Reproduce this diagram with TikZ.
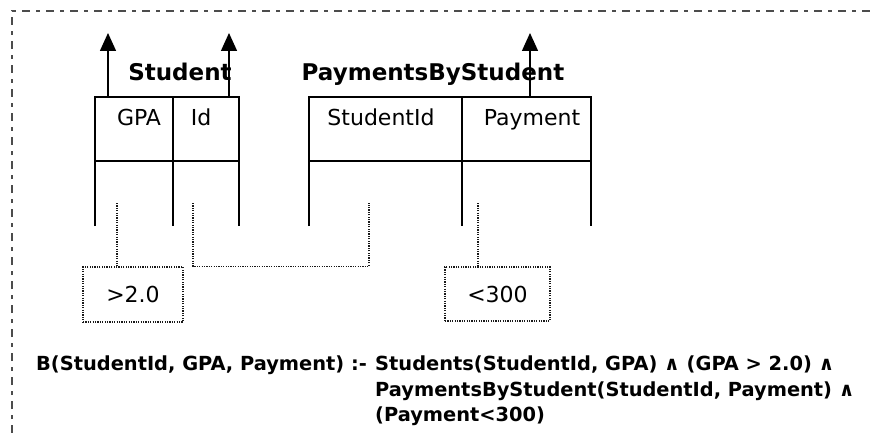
\documentclass[tikz,border=0pt]{standalone}
\usepackage{fontspec}
\setmainfont{DejaVu Sans}
\usetikzlibrary{arrows.meta}

\begin{document}
\begin{tikzpicture}[x=1pt,y=-1pt]

%my colors
\definecolor{framegray}{rgb}{0.3, 0.3, 0.3}
\definecolor{dotgray}{rgb}{0.1, 0.1, 0.1}

\tikzset{
  tableline/.style={line width=1.4pt, black},
  outarrow/.style={-{Triangle[width=16pt,length=18pt]}, line width=1.4pt},
  headtext/.style={font=\fontsize{22}{24}\selectfont, inner sep=0pt, anchor=base},
  titletext/.style={font=\fontsize{23}{25}\selectfont\bfseries, inner sep=0pt, anchor=base},
  joinline/.style={dotgray, line width=1.3pt, dash pattern=on 1.2pt off 1.2pt},
  condbox/.style={draw=dotgray, line width=1.3pt, dash pattern=on 1.2pt off 1.2pt, inner sep=0pt,
                  font=\fontsize{22}{24}\selectfont},
  rulebody/.style={font=\fontsize{19.4}{21}\selectfont\bfseries, inner sep=0pt, anchor=base west}
}

\useasboundingbox (0,0) rectangle (870,433);

    % Outer frame (only top and left are visible)
    \draw[framegray, line width=2pt, dash pattern=on 8pt off 6pt on 4pt off 6pt]
        (12,433) -- (12,11) -- (870,11);

    % Row levels of both tables
    \def\rowTop{97}
    \def\rowMid{161}
    \def\rowBot{226}

    % Student table
    \draw[tableline] (95,\rowBot) -- (95,\rowTop) -- (239,\rowTop) -- (239,\rowBot);
    \draw[tableline] (173,\rowTop) -- (173,\rowBot);
    \draw[tableline] (95,\rowMid) -- (239,\rowMid);
    \node[titletext] (student) at (180,81) {Student};
    \node[headtext] (gpa) at (139,126) {GPA};
    \node[headtext] (id) at (201,126) {Id};

    % PaymentsByStudent table
    \draw[tableline] (309,\rowBot) -- (309,\rowTop) -- (591,\rowTop) -- (591,\rowBot);
    \draw[tableline] (462,\rowTop) -- (462,\rowBot);
    \draw[tableline] (309,\rowMid) -- (591,\rowMid);
    \node[titletext] (payments) at (433,81) {PaymentsByStudent};
    \node[headtext] (studentid) at (381,126) {StudentId};
    \node[headtext] (payment) at (532,126) {Payment};

    % Output columns
    \coordinate (gpaOut) at (108,\rowTop);
    \coordinate (idOut) at (229,\rowTop);
    \coordinate (paymentOut) at (530,\rowTop);
    \draw[outarrow] (gpaOut) -- ++(0,-64);
    \draw[outarrow] (idOut) -- ++(0,-64);
    \draw[outarrow] (paymentOut) -- ++(0,-64);

    % Selection conditions
    \node[condbox, minimum width=100pt, minimum height=55pt] (gpacond) at (133,294.5) {>2.0};
    \node[condbox, minimum width=105pt, minimum height=54pt] (paycond) at (497.5,294) {<300};

    % Dotted links from the columns
    \coordinate (gpaDrop) at (117,203);
    \coordinate (idDrop) at (193,203);
    \coordinate (sidDrop) at (369,203);
    \coordinate (payDrop) at (478,203);
    \draw[joinline] (gpaDrop) -- (gpaDrop |- gpacond.north);
    \draw[joinline] (payDrop) -- (payDrop |- paycond.north);
    % Join Id = StudentId
    \draw[joinline] (idDrop) -- (idDrop |- gpacond.north) -| (sidDrop);

    % Datalog rule
    \node[rulebody] (rulehead) at (36,370) {B(StudentId, GPA, Payment) :-};
    \node[rulebody] (ruleA) at (375,370) {Students(StudentId, GPA) ∧ (GPA > 2.0) ∧};
    \node[rulebody] (ruleB) at (375,396) {PaymentsByStudent(StudentId, Payment) ∧};
    \node[rulebody] (ruleC) at (375,421) {(Payment<300)};

\end{tikzpicture}
\end{document}
